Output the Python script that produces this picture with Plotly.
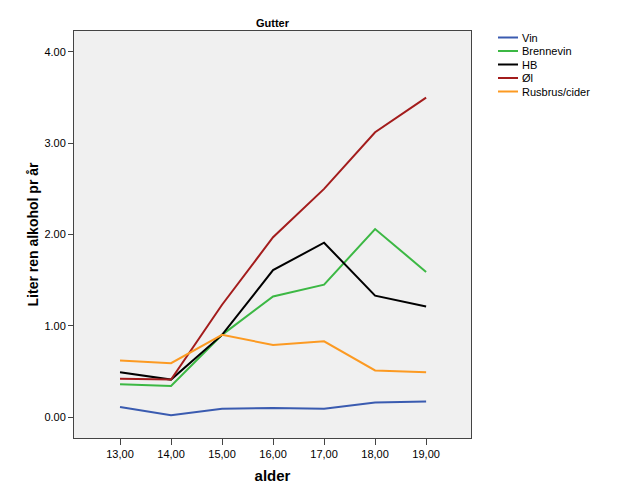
import plotly.graph_objects as go

ages = [13, 14, 15, 16, 17, 18, 19]
age_labels = ["13,00", "14,00", "15,00", "16,00", "17,00", "18,00", "19,00"]
y_ticks = [0, 1, 2, 3, 4]

vin = [0.11, 0.02, 0.09, 0.10, 0.09, 0.16, 0.17]
brennevin = [0.36, 0.34, 0.90, 1.32, 1.45, 2.06, 1.59]
hb = [0.49, 0.41, 0.90, 1.61, 1.91, 1.33, 1.21]
ol = [0.42, 0.41, 1.23, 1.97, 2.50, 3.12, 3.50]
rusbrus = [0.62, 0.59, 0.90, 0.79, 0.83, 0.51, 0.49]

names = ["Vin", "Brennevin", "HB", "Øl", "Rusbrus/cider"]
series = [vin, brennevin, hb, ol, rusbrus]
colors = ["#3a5bb0", "#3cb844", "#000000", "#a31c1c", "#fc9a22"]

fig = go.Figure()
for name, vals, col in zip(names, series, colors):
    fig.add_trace(go.Scatter(x=ages, y=vals, mode="lines", name=name,
                             line=dict(color=col, width=2), showlegend=False))

# manual legend (short sample lines like the original)
W, H = 397.0, 407.0
for i, (name, col) in enumerate(zip(names, colors)):
    ypx = 37.5 + i * 13.5
    yp = (438 - ypx) / H
    fig.add_shape(type="line", xref="paper", yref="paper",
                  x0=(498 - 74) / W, x1=(518 - 74) / W, y0=yp, y1=yp,
                  line=dict(color=col, width=2))
    fig.add_annotation(xref="paper", yref="paper", x=(520 - 74) / W, y=yp,
                       text=name, showarrow=False, xanchor="left", yanchor="middle",
                       font=dict(family="Liberation Sans, Arial", size=11, color="#000"))

fig.update_layout(
    width=629, height=504,
    margin=dict(l=74, r=158, t=31, b=66),
    paper_bgcolor="white", plot_bgcolor="#f0f0f0",
    font=dict(family="Liberation Sans, Arial", size=11, color="#000"),
    title=dict(text="<b>Gutter</b>", x=0.5, xanchor="center", xref="paper",
               y=1 - 23 / 504, yanchor="middle", font=dict(size=11)),
)
fig.update_xaxes(range=[12.098, 19.88], tickvals=ages, ticktext=age_labels,
                 showgrid=False, zeroline=False, showline=True, mirror=True,
                 linecolor="#444", linewidth=1, ticks="outside", ticklen=6,
                 tickcolor="#444",
                 title=dict(text="<b>alder</b>", font=dict(size=15), standoff=11))
fig.update_yaxes(range=[-0.23, 4.23], tickvals=y_ticks, tickformat=".2f",
                 showgrid=False, zeroline=False, showline=True, mirror=True,
                 linecolor="#444", linewidth=1, ticks="outside", ticklen=5,
                 tickcolor="#444",
                 title=dict(text="<b>Liter ren alkohol pr år</b>", font=dict(size=14), standoff=2))

fig.write_html("out.html")
